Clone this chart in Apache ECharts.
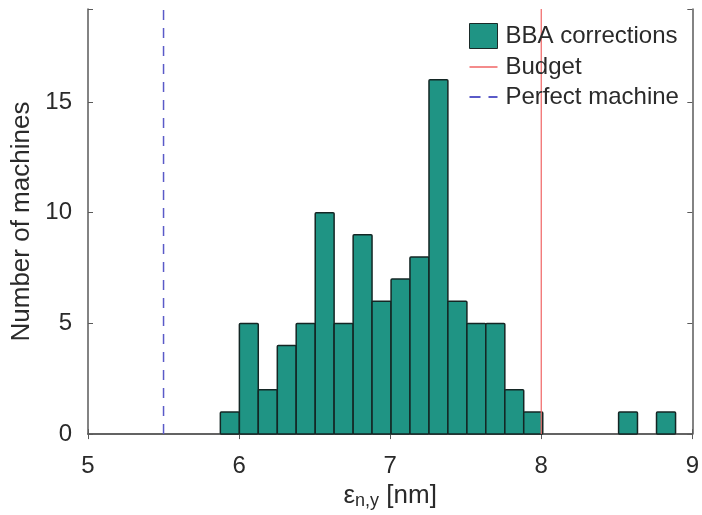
<!DOCTYPE html>
<html><head><meta charset="utf-8">
<script src="https://cdn.jsdelivr.net/npm/echarts@6/dist/echarts.min.js"></script>
<style>html,body{margin:0;padding:0;background:#fff}#c{width:702px;height:515px}</style>
</head><body><div id="c"></div>
<script>
// Histogram bins (left edges, right edges) and counts
const binLeft  = [5.876,6.002,6.127,6.253,6.378,6.504,6.629,6.755,6.880,7.006,7.131,7.257,7.382,7.508,7.633,7.759,7.884,8.010,8.135,8.261,8.386,8.512,8.637,8.763];
const binRight = [6.002,6.127,6.253,6.378,6.504,6.629,6.755,6.880,7.006,7.131,7.257,7.382,7.508,7.633,7.759,7.884,8.010,8.135,8.261,8.386,8.512,8.637,8.763,8.889];
const counts   = [1,5,2,4,5,10,5,9,6,7,8,16,6,5,5,2,1,0,0,0,0,1,0,1];
const budgetX = 8.0;
const perfectX = 5.5;
const xTicks = [5,6,7,8,9];
const yTicks = [0,5,10,15];
const yMax = 19.2;

const FONT = '"Liberation Sans", Arial, sans-serif';
const TXT = '#2a2a2a';
const AX = '#5a5a5a';
const TEAL = '#1f9484';
const RED = '#f06464';
const BLUE = '#5a5ac8';

const barData = binLeft.map((l, i) => [l, binRight[i], counts[i]]);

const chart = echarts.init(document.getElementById('c'));
chart.setOption({
  animation: false,
  backgroundColor: '#fff',
  textStyle: { fontFamily: FONT },
  grid: { left: 88, right: 8, top: 9, bottom: 79 },
  legend: {
    left: 469, top: 23, orient: 'vertical', itemGap: 6, padding: 0,
    itemWidth: 28, itemHeight: 25, symbolKeepAspect: true,
    textStyle: { fontSize: 24, color: TXT, fontFamily: FONT, padding: [0,0,0,3] },
    data: [
      { name: 'BBA corrections', icon: 'rect', itemStyle: { color: TEAL, borderColor: '#1a2a28', borderWidth: 1 } },
      { name: 'Budget', icon: 'path://M0,0h28v1.5h-28z', itemStyle: { color: RED } },
      { name: 'Perfect machine', icon: 'path://M0,0h11v2h-11z M19,0h9v2h-9z', itemStyle: { color: BLUE } }
    ]
  },
  xAxis: [{
    type: 'value', min: 5, max: 9, interval: 1,
    name: 'ε{s|n,y} [nm]', nameLocation: 'middle', nameGap: 44,
    nameTextStyle: { fontSize: 26, color: TXT, fontFamily: FONT, rich: { s: { fontSize: 18, color: TXT, fontFamily: FONT, padding: [10,0,0,0] } } },
    axisLine: { show: true, lineStyle: { color: AX, width: 1.5 } },
    axisTick: { show: true, inside: true, length: 5, lineStyle: { color: AX } },
    axisLabel: { fontSize: 24, color: TXT, margin: 20, fontFamily: FONT,
      formatter: v => xTicks.includes(v) ? String(v) : '' },
    splitLine: { show: false }
  }, {
    type: 'value', min: 5, max: 9, interval: 1, position: 'top',
    axisLine: { show: true, lineStyle: { color: AX, width: 1.5 } },
    axisTick: { show: true, inside: true, length: 5, lineStyle: { color: AX } },
    axisLabel: { show: false }, splitLine: { show: false }
  }],
  yAxis: [{
    type: 'value', min: 0, max: yMax, interval: 5,
    name: 'Number of machines', nameLocation: 'middle', nameGap: 48,
    nameTextStyle: { fontSize: 26, color: TXT, fontFamily: FONT },
    axisLine: { show: true, lineStyle: { color: AX, width: 1.5 } },
    axisTick: { show: true, inside: true, length: 5, lineStyle: { color: AX } },
    axisLabel: { fontSize: 24, color: TXT, margin: 16, fontFamily: FONT,
      formatter: v => yTicks.includes(v) ? String(v) : '' },
    splitLine: { show: false }
  }, {
    type: 'value', min: 0, max: yMax, interval: 5, position: 'right',
    axisLine: { show: true, lineStyle: { color: AX, width: 1.5 } },
    axisTick: { show: true, inside: true, length: 5, lineStyle: { color: AX } },
    axisLabel: { show: false }, splitLine: { show: false }
  }],
  series: [
    {
      name: 'BBA corrections', type: 'custom', xAxisIndex: 0, yAxisIndex: 0,
      itemStyle: { color: TEAL },
      encode: { x: [0, 1], y: 2 },
      data: barData,
      renderItem: function (params, api) {
        const h = api.value(2);
        if (!h) return null;
        const p0 = api.coord([api.value(0), 0]);
        const p1 = api.coord([api.value(1), h]);
        return {
          type: 'rect',
          shape: { x: p0[0], y: p1[1], width: p1[0] - p0[0], height: p0[1] - p1[1], r: 1 },
          style: { fill: TEAL, stroke: '#142624', lineWidth: 1.5 }
        };
      },
      z: 2
    },
    {
      name: 'Budget', type: 'line', symbol: 'none', xAxisIndex: 0, yAxisIndex: 0,
      data: [[budgetX, 0], [budgetX, yMax]],
      lineStyle: { color: RED, width: 1.2 }, itemStyle: { color: RED }, z: 3
    },
    {
      name: 'Perfect machine', type: 'line', symbol: 'none', xAxisIndex: 0, yAxisIndex: 0,
      data: [[perfectX, 0], [perfectX, yMax]],
      lineStyle: { color: BLUE, width: 1.5, type: [10, 8] }, itemStyle: { color: BLUE }, z: 3
    }
  ]
});
</script>
</body></html>
